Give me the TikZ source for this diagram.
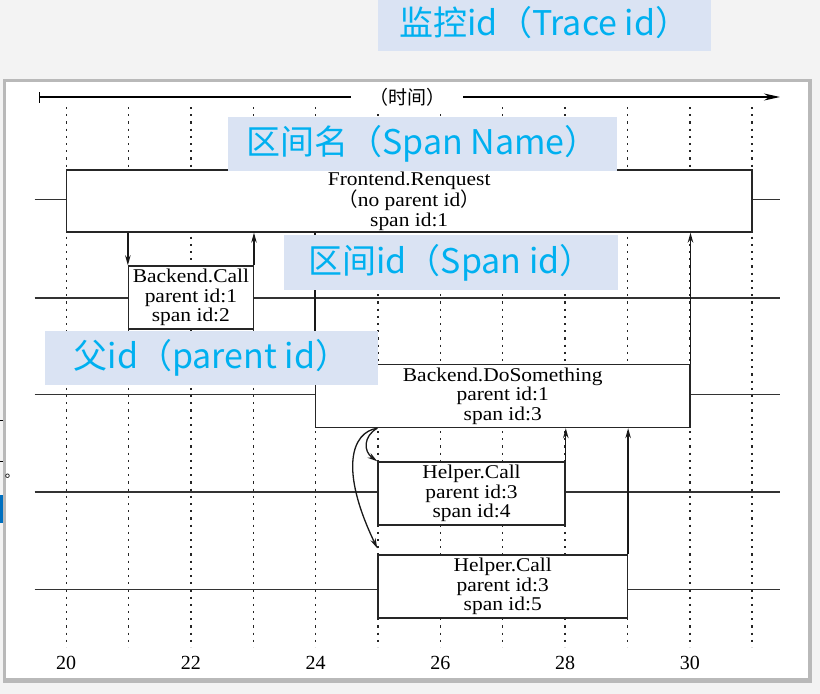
\documentclass[tikz,border=0pt]{standalone}
\usepackage{fontspec}
\setmainfont{Liberation Serif}
\newfontfamily\cjk{Noto Sans CJK SC}
\newfontfamily\spanserif{Liberation Serif}[FakeStretch=1.1]
\usepackage{tikz}
\usetikzlibrary{arrows.meta}
\definecolor{slidebg}{HTML}{F3F3F3}
\definecolor{calloutfill}{HTML}{DAE3F3}
\definecolor{calloutblue}{HTML}{00B0F0}
\definecolor{remnantblue}{HTML}{0070C0}
\newcommand\spanfont{\spanserif\fontsize{19.5}{19.5}\selectfont}
\newcommand\calloutfont{\cjk\fontsize{34}{40}\selectfont}

\begin{document}
\begin{tikzpicture}[x=1pt,y=-1pt,declare function={tx(\t)=66.2+62.36*(\t-20);},
spanbox/.style={draw=black!85,line width=1.4pt,fill=white,inner sep=0pt,minimum width=#1*62.36pt,minimum height=63pt,align=center,font=\spanfont},
lane/.style={draw=black!80,line width=1.5pt},
tickline/.style={black!85,line width=1.4pt,dash pattern=on 2.2pt off 5pt},
call/.style={draw=black!90,line width=1.3pt,-{Stealth[length=10pt,width=5.5pt]}},
callout/.style={fill=calloutfill,text=calloutblue,font=\calloutfont,inner sep=0pt}]
\useasboundingbox (0,0) rectangle (820,694);
\fill[slidebg] (0,0) rectangle (820,694);
\fill[remnantblue] (0,495) rectangle (3,523);
\draw[line width=1pt] (0,420) -- (4,420) (0,461) -- (3,461);
% panel
\fill[gray!55] (3,79) rectangle (812,683);
\fill[white] (6,82) rectangle (808,678);
\node[font=\cjk\fontsize{14}{14}\selectfont,inner sep=0pt] (dot) at (12,476) {。};
\foreach \t in {20,...,31} {
   \draw[tickline] ({tx(\t)},107) -- ({tx(\t)},647);
}
\foreach \y in {199.5,298,394.5,492,589.5} {
   \draw[lane] (34.5,\y) -- (780,\y);
}
% spans
\node[spanbox=11,minimum height=62pt] (fe) at ({tx(25.5)},201)
   {Frontend.Renquest\\{\cjk （}no parent id{\cjk ）}\\span id:1};
\node[spanbox=2] (bc) at ({tx(22)},297.5) {Backend.Call\\parent id:1\\span id:2};
\node[spanbox=6] (ds) at ({tx(27)},396) {Backend.DoSomething\\parent id:1\\span id:3};
\node[spanbox=3] (hc4) at ({tx(26.5)},493.5) {Helper.Call\\parent id:3\\span id:4};
\node[spanbox=4] (hc5) at ({tx(27)},586.5) {Helper.Call\\parent id:3\\span id:5};
% calls and returns
\draw[call] (bc.north west |- fe.south) -- (bc.north west);
\draw[call] (bc.north east) -- (bc.north east |- fe.south);
\draw[call] (ds.north west |- fe.south) -- (ds.north west);
\draw[call] (ds.north east) -- (ds.north east |- fe.south);
\draw[call] (hc4.north east) -- (hc4.north east |- ds.south);
\draw[call] (hc5.north east) -- (hc5.north east |- ds.south);
\coordinate (fork) at (ds.south -| hc4.north west);
\draw[call] (fork) .. controls +(-14,8) and +(-14,-10) .. (hc4.north west);
\draw[call] (fork) .. controls +(-26,4) and +(-38,-79) .. ([yshift=6pt]hc5.north west);
% time axis
\coordinate (tstart) at (39,97);
\coordinate (tend) at (780,97);
\draw[line width=1.3pt,{Bar[width=11pt]}-{Stealth[length=16pt,width=7pt]}] (tstart) -- (tend)
   node[pos=0.497,fill=white,inner xsep=18pt,font=\cjk\fontsize{19}{19}\selectfont] (timelbl) {（时间）};
\foreach \t in {20,22,...,30} {
   \node[font=\fontsize{20}{20}\selectfont] (lbl\t) at ({tx(\t)},663) {\t};
}
% callouts
\node[callout,minimum width=333pt,minimum height=56pt] (traceid) at (544.5,23) {监控id（Trace id）};
\node[callout,minimum width=389pt,minimum height=54pt] (spanname) at (422.5,144) {区间名（Span Name）};
\node[callout,minimum width=334pt,minimum height=55pt] (spanid) at (451,262.5) {区间id（Span id）};
\node[callout,minimum width=333pt,minimum height=54pt] (parentid) at (211.5,358) {父id（parent id）};
\end{tikzpicture}
\end{document}
